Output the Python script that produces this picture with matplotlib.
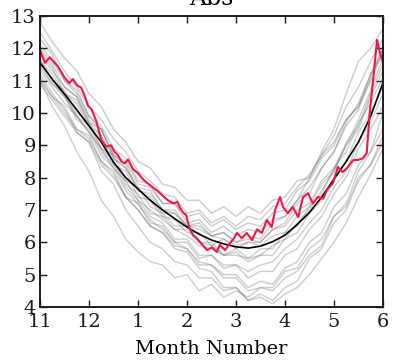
import matplotlib
matplotlib.use("Agg")
import matplotlib.pyplot as plt

plt.rcParams['font.family'] = ['DejaVu Serif']

# x positions in months since Nov 1 (0 = Nov ... 7 = Jun)
grid_x = [i * 0.25 for i in range(29)]
month_ticks = [0, 1, 2, 3, 4, 5, 6, 7]
month_labels = ['11', '12', '1', '2', '3', '4', '5', '6']

years = {
    'y01': [12.8,12.2,11.7,11.3,10.6,10.2,9.5,9.1,8.5,8.3,7.8,7.7,7.3,7.3,6.9,7.1,6.8,7.1,6.9,7.3,7.4,7.9,8.0,8.7,9.1,9.8,10.2,11.0,11.9],
    'y02': [11.2,10.6,10.1,9.4,9.1,8.2,7.8,7.0,6.5,6.0,5.8,5.4,5.3,4.9,4.9,4.5,4.6,4.2,4.4,4.2,4.6,4.8,5.5,5.8,6.6,7.0,7.9,8.4,9.3],
    'y03': [11.0,10.2,9.6,8.8,8.2,7.3,6.8,6.1,5.7,5.4,5.3,4.9,5.0,4.5,4.7,4.3,4.5,4.3,4.6,4.6,5.1,5.2,5.8,6.1,6.8,7.2,8.2,8.8,10.0],
    'y04': [11.6,11.2,10.6,10.4,9.7,9.3,8.6,8.3,7.7,7.6,7.0,7.0,6.5,6.6,6.2,6.3,6.0,6.1,6.0,6.4,6.5,7.0,7.2,7.9,8.3,9.0,9.5,10.5,11.3],
    'y05': [12.3,11.8,11.0,10.7,9.9,9.6,8.9,8.6,7.9,7.8,7.2,7.2,6.6,6.7,6.3,6.5,6.2,6.4,6.3,6.7,6.8,7.3,7.7,8.3,8.8,9.6,10.1,11.1,12.0],
    'y06': [11.3,10.8,10.3,9.9,9.4,8.7,8.3,7.6,7.2,6.7,6.4,6.0,5.8,5.3,5.3,4.9,4.9,4.5,4.6,4.5,4.9,5.1,5.6,5.9,6.8,7.1,8.0,8.4,9.1],
    'y07': [11.8,11.3,10.8,10.5,9.8,9.5,8.6,8.3,7.6,7.5,7.0,6.9,6.5,6.4,6.2,6.1,5.9,6.0,5.9,6.2,6.3,6.8,7.1,7.8,8.2,9.1,9.6,10.6,11.5],
    'y08': [11.4,10.9,10.6,9.9,9.6,8.9,8.5,7.8,7.5,6.9,6.8,6.4,6.4,6.0,5.9,5.6,5.7,5.4,5.6,5.6,6.1,6.3,6.9,7.3,8.0,8.5,9.4,10.0,10.8],
    'y09': [12.0,11.5,10.8,10.5,9.7,9.5,8.7,8.5,7.8,7.7,7.2,7.2,6.8,6.9,6.5,6.7,6.4,6.6,6.5,6.9,7.0,7.6,7.9,8.6,9.0,9.8,10.2,11.2,11.8],
    'y10': [11.0,10.5,10.0,9.5,9.2,8.5,8.1,7.4,7.0,6.5,6.3,5.8,5.7,5.2,5.1,4.6,4.6,4.2,4.3,4.1,4.4,4.6,5.0,5.5,6.0,6.6,7.4,8.1,8.9],
    'y11': [11.7,11.0,10.7,10.0,9.7,8.9,8.7,7.9,7.7,7.1,6.9,6.5,6.5,6.0,6.0,5.6,5.8,5.5,5.8,5.8,6.3,6.5,7.1,7.5,8.3,8.8,9.7,10.3,11.1],
    'y12': [12.5,11.9,11.3,10.8,10.2,9.8,9.2,8.8,8.2,7.9,7.5,7.4,6.9,7.0,6.6,6.8,6.5,6.8,6.7,7.1,7.2,7.7,8.1,8.7,9.3,10.2,10.8,11.6,12.3],
    'y13': [11.1,10.5,10.2,9.5,9.3,8.5,8.2,7.4,7.2,6.6,6.5,6.0,6.0,5.5,5.6,5.2,5.3,4.9,5.1,5.1,5.6,5.8,6.4,6.8,7.5,8.0,8.9,9.5,10.2],
    'y14': [11.9,11.4,10.6,10.3,9.6,9.3,8.4,8.2,7.4,7.3,6.8,6.7,6.3,6.3,5.9,6.1,5.8,6.0,6.0,6.4,6.6,7.2,7.5,8.3,8.8,9.7,10.3,11.2,12.0],
    'y15': [11.5,10.9,10.5,9.8,9.5,8.8,8.4,7.7,7.3,6.8,6.6,6.1,6.1,5.6,5.6,5.3,5.3,5.1,5.3,5.4,5.8,6.1,6.6,7.0,7.7,8.2,9.1,9.7,10.6],
    'y16': [12.1,11.6,11.0,10.6,9.9,9.5,8.7,8.4,7.6,7.4,6.9,6.9,6.5,6.5,6.2,6.3,6.0,6.2,6.1,6.6,6.8,7.3,8.0,8.8,9.5,10.6,11.6,12.0,12.6],
    'y17': [10.9,10.4,9.9,9.4,9.1,8.4,8.0,7.4,7.0,6.5,6.3,5.9,5.8,5.4,5.3,5.0,5.0,4.6,4.8,4.7,5.2,5.4,6.0,6.3,7.1,7.5,8.4,8.8,9.5],
    'y18': [11.6,11.0,10.5,9.9,9.4,8.9,8.3,7.9,7.3,7.0,6.7,6.4,6.2,5.9,5.8,5.6,5.6,5.5,5.6,5.9,6.1,6.6,7.0,7.6,8.2,9.0,9.8,10.7,11.7],
}

mean_vals = [11.55,11.05,10.58,10.1,9.6,9.1,8.48,8.0,7.65,7.3,7.0,6.73,6.47,6.25,6.07,5.95,5.86,5.82,5.88,6.02,6.22,6.55,6.92,7.4,7.95,8.5,9.1,9.9,10.93]

red_x = [0.0,0.1,0.2,0.3,0.37,0.5,0.6,0.67,0.76,0.84,0.92,0.98,1.05,1.15,1.25,1.35,1.45,1.52,1.59,1.66,1.73,1.8,1.9,2.0,2.1,2.24,2.39,2.49,2.61,2.72,2.8,2.86,2.92,2.98,3.05,3.12,3.2,3.27,3.41,3.51,3.61,3.67,3.78,3.88,3.95,4.02,4.12,4.22,4.33,4.43,4.53,4.63,4.73,4.8,4.9,4.96,5.06,5.16,5.27,5.37,5.47,5.57,5.67,5.78,5.86,5.98,6.08,6.18,6.27,6.39,6.5,6.59,6.67,6.73,6.8,6.88,6.94,7.0]
red_y = [11.95,11.55,11.72,11.55,11.43,11.1,10.92,11.05,10.85,10.78,10.5,10.22,10.12,9.75,9.16,8.96,9.0,8.8,8.7,8.5,8.44,8.56,8.26,8.14,7.95,7.77,7.6,7.46,7.3,7.2,7.25,7.06,6.92,6.85,6.45,6.23,6.13,6.0,5.76,5.84,5.7,5.92,5.76,5.98,6.1,6.29,6.13,6.29,6.07,6.4,6.29,6.69,6.47,7.0,7.4,7.09,6.9,7.09,6.78,7.4,7.52,7.2,7.4,7.35,7.62,7.83,8.33,8.17,8.3,8.54,8.55,8.6,8.76,10.0,11.02,12.26,11.85,11.58]

line_tints = ['#555555', '#6a5058', '#4f6a5c', '#5a5a66']

fig = plt.figure(figsize=(3.96, 3.62), dpi=100)
ax = fig.add_axes([0.101, 0.152, 0.866, 0.804])

for i, (name, vals) in enumerate(years.items()):
    ax.plot(grid_x, vals, color=line_tints[i % len(line_tints)], alpha=0.3, lw=1.0)
ax.plot(grid_x, mean_vals, color='black', lw=1.2)
ax.plot(red_x, red_y, color='#f01848', lw=1.5)

ax.set_xlim(0, 7)
ax.set_ylim(4, 13)
ax.set_xticks(month_ticks)
ax.set_xticklabels(month_labels)
ax.set_yticks(range(4, 14))
ax.tick_params(axis='both', direction='in', top=True, right=True, length=5, width=1,
               labelsize=14, colors='#1a1a1a')
ax.tick_params(axis='x', pad=4.5)
ax.tick_params(axis='y', pad=3)
for s in ax.spines.values():
    s.set_linewidth(1.4)
    s.set_color('#1a1a1a')
ax.set_xlabel('Month Number', fontsize=14, labelpad=6)
ax.set_title('Abs', fontsize=17, pad=8)

fig.savefig('out.png', dpi=100)
